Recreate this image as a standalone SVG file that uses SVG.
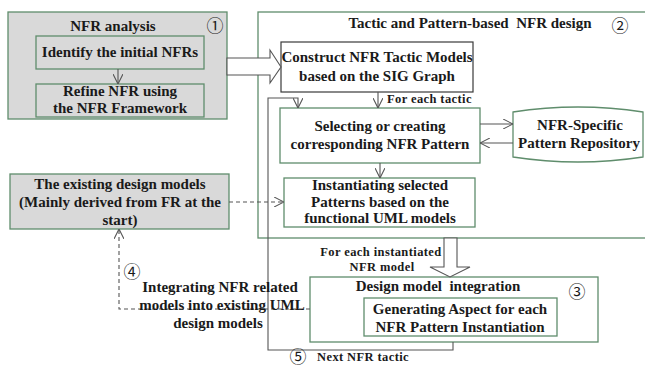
<svg xmlns="http://www.w3.org/2000/svg" width="645" height="369" viewBox="0 0 645 369">
  <style>
    .t { font-family: "Liberation Serif", "DejaVu Serif", serif; font-weight: bold; font-size: 15px; fill: #1a1a1a; text-anchor: middle; }
    .pre { white-space: pre; }
    .s { font-family: "Liberation Serif", "DejaVu Serif", serif; font-weight: bold; font-size: 12.5px; letter-spacing: 0.4px; fill: #1a1a1a; }
    .num { font-family: "Noto Sans CJK SC", "DejaVu Sans", sans-serif; font-size: 17px; fill: #1a1a1a; text-anchor: middle; }
    .box { fill: #ffffff; stroke: #5f8d6c; stroke-width: 1.3; }
    .gray { fill: #d9d9d9; stroke: #5f8d6c; stroke-width: 1.3; }
    .dark { fill: #ffffff; stroke: #3a3a3a; stroke-width: 1.2; }
    .line { fill: none; stroke: #555555; stroke-width: 1.1; }
    .dash { fill: none; stroke: #555555; stroke-width: 1.1; stroke-dasharray: 4 3; }
    .hollow { fill: #ffffff; stroke: #555555; stroke-width: 1.1; }
  </style>
  <defs>
    <marker id="open" viewBox="0 0 10 10" refX="10" refY="5" markerWidth="10" markerHeight="10" markerUnits="userSpaceOnUse" orient="auto">
      <polyline points="0,0 10,5 0,10" fill="none" stroke="#555555" stroke-width="1.1"/>
    </marker>
  </defs>

  <!-- stage 1: NFR analysis -->
  <g id="nfr-analysis">
    <rect class="gray" x="8" y="12" width="219" height="107"/>
    <text class="t" x="113" y="31">NFR analysis</text>
    <text class="num" x="215" y="32">①</text>
  </g>
  <g id="identify-nfrs">
    <rect class="gray" x="36" y="36" width="168" height="33"/>
    <text class="t" x="120" y="57">Identify the initial NFRs</text>
  </g>
  <g id="refine-nfr">
    <rect class="gray" x="36" y="84" width="168" height="33"/>
    <text class="t" x="120" y="96">Refine NFR using</text>
    <text class="t" x="120" y="113">the NFR Framework</text>
  </g>

  <!-- stage 2: tactic and pattern-based design -->
  <g id="nfr-design">
    <rect class="box" x="258" y="12" width="400" height="226"/>
    <text class="t pre" x="470" y="28">Tactic and Pattern-based  NFR design</text>
    <text class="num" x="620" y="32">②</text>
  </g>
  <g id="construct-tactic">
    <rect class="dark" x="281" y="42" width="192" height="50"/>
    <text class="t" x="377" y="62">Construct NFR Tactic Models</text>
    <text class="t" x="377" y="81">based on the SIG Graph</text>
  </g>
  <g id="select-pattern">
    <rect class="box" x="280" y="108" width="200" height="55"/>
    <text class="t" x="380" y="131">Selecting or creating</text>
    <text class="t" x="380" y="149">corresponding NFR Pattern</text>
  </g>
  <g id="pattern-repository">
    <path class="box" d="M513,112 Q578,102 643,112 L643,157 Q578,167 513,157 Z"/>
    <text class="t" x="580" y="130">NFR-Specific</text>
    <text class="t" x="579" y="148">Pattern Repository</text>
  </g>
  <g id="instantiate-patterns">
    <rect class="box" x="284" y="178" width="191" height="49"/>
    <text class="t" x="380" y="190">Instantiating selected</text>
    <text class="t" x="380" y="207">Patterns based on the</text>
    <text class="t" x="380" y="223">functional UML models</text>
  </g>

  <!-- existing design models -->
  <g id="existing-models">
    <rect class="gray" x="10" y="174" width="219" height="55"/>
    <text class="t" x="120" y="189">The existing design models</text>
    <text class="t" x="120" y="207">(Mainly derived from FR at the</text>
    <text class="t" x="120" y="225">start)</text>
  </g>

  <!-- stage 3: design model integration -->
  <g id="model-integration">
    <rect class="box" x="310" y="277" width="288" height="65"/>
    <text class="t pre" x="438" y="291">Design model  integration</text>
    <text class="num" x="577" y="298">③</text>
  </g>
  <g id="generate-aspect">
    <rect class="box" x="364" y="298" width="193" height="38"/>
    <text class="t" x="460" y="314">Generating Aspect for each</text>
    <text class="t" x="460" y="332">NFR Pattern Instantiation</text>
  </g>

  <!-- connectors -->
  <g id="connectors">
    <line class="line" x1="118" y1="69" x2="118" y2="84" marker-end="url(#open)"/>
    <polygon class="hollow" points="227,58 270,58 270,50 281,67 270,83 270,75 227,75"/>
    <line class="line" x1="378" y1="92" x2="378" y2="108" marker-end="url(#open)"/>
    <line class="line" x1="480" y1="124" x2="513" y2="124" marker-end="url(#open)"/>
    <line class="line" x1="513" y1="143" x2="480" y2="143" marker-end="url(#open)"/>
    <line class="line" x1="380" y1="163" x2="380" y2="178" marker-end="url(#open)"/>
    <line class="dash" x1="229" y1="202" x2="284" y2="202" marker-end="url(#open)"/>
    <polygon class="hollow" points="444,238 444,267 430,267 450,277 470,267 457,267 457,238"/>
    <polyline class="dash" points="310,309 119,309 119,229" marker-end="url(#open)"/>
    <polyline class="line" points="453,342 453,350 268,350 268,98 298,98 298,108" marker-end="url(#open)"/>
  </g>

  <!-- connector labels -->
  <g id="labels">
    <text class="s" x="387" y="103">For each tactic</text>
    <text class="s" x="381" y="256" text-anchor="middle">For each instantiated</text>
    <text class="s" x="382" y="271" text-anchor="middle">NFR model</text>
    <text class="num" x="132" y="278">④</text>
    <text class="t" x="220" y="292">Integrating NFR related</text>
    <text class="t" x="222" y="310">models into existing UML</text>
    <text class="t" x="218" y="328">design models</text>
    <text class="num" x="298" y="363">⑤</text>
    <text class="s" x="317" y="361">Next NFR tactic</text>
  </g>
</svg>
